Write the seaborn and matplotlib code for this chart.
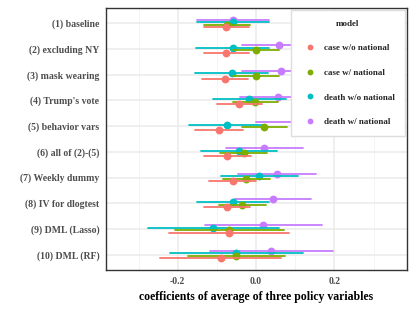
import numpy as np
import pandas as pd
import matplotlib
matplotlib.use("Agg")
import matplotlib.pyplot as plt
import seaborn as sns
from matplotlib.lines import Line2D

labels = ["(1) baseline", "(2) excluding NY", "(3) mask wearing", "(4) Trump's vote",
          "(5) behavior vars", "(6) all of (2)-(5)", "(7) Weekly dummy",
          "(8) IV for dlogtest", "(9) DML (Lasso)", "(10) DML (RF)"]
models = ["case w/o national", "case w/ national", "death w/o national", "death w/ national"]
colors = ["#F8766D", "#7CAE00", "#00BFC4", "#C77CFF"]

case_wo_pt = [-0.076, -0.076, -0.080, -0.043, -0.094, -0.073, -0.060, -0.073, -0.068, -0.090]
case_wo_lo = [-0.134, -0.134, -0.137, -0.101, -0.155, -0.132, -0.120, -0.132, -0.222, -0.245]
case_wo_hi = [-0.018, -0.018, -0.021, 0.015, -0.034, -0.013, -0.001, -0.015, 0.085, 0.063]

case_w_pt = [-0.075, -0.001, -0.001, -0.003, 0.021, -0.032, -0.025, -0.036, -0.070, -0.051]
case_w_lo = [-0.132, -0.060, -0.060, -0.060, -0.035, -0.092, -0.085, -0.094, -0.208, -0.174]
case_w_hi = [-0.015, 0.059, 0.059, 0.057, 0.080, 0.029, 0.036, 0.025, 0.070, 0.074]

death_wo_pt = [-0.058, -0.060, -0.062, -0.018, -0.075, -0.043, 0.008, -0.059, -0.109, -0.051]
death_wo_lo = [-0.151, -0.154, -0.155, -0.110, -0.171, -0.141, -0.089, -0.151, -0.277, -0.219]
death_wo_hi = [0.034, 0.034, 0.030, 0.075, 0.019, 0.054, 0.106, 0.034, 0.059, 0.119]

death_w_pt = [-0.059, 0.059, 0.063, 0.055, 0.110, 0.021, 0.053, 0.042, 0.017, 0.038]
death_w_lo = [-0.151, -0.037, -0.035, -0.041, 0.000, -0.076, -0.047, -0.055, -0.130, -0.117]
death_w_hi = [0.034, 0.155, 0.160, 0.151, 0.220, 0.119, 0.152, 0.140, 0.167, 0.195]

series = {
    "case w/o national": (case_wo_lo, case_wo_pt, case_wo_hi),
    "case w/ national": (case_w_lo, case_w_pt, case_w_hi),
    "death w/o national": (death_wo_lo, death_wo_pt, death_wo_hi),
    "death w/ national": (death_w_lo, death_w_pt, death_w_hi),
}
rows = []
for m, (lo, pt, hi) in series.items():
    for i, lab in enumerate(labels):
        for v in (lo[i], pt[i], hi[i]):
            rows.append({"label": lab, "model": m, "value": v})
df = pd.DataFrame(rows)

sns.set_style("white")
plt.rcParams["font.family"] = ["Liberation Serif", "DejaVu Serif"]

fig = plt.figure(figsize=(4.15, 3.12), dpi=100)
ax = fig.add_axes([106 / 415, 1 - 270 / 312, (407 - 106) / 415, (270 - 8) / 312])

pal = dict(zip(models, colors))
plot_order = models[::-1]
sns.pointplot(data=df, x="value", y="label", hue="model", hue_order=plot_order,
              order=labels, palette=pal, estimator="median",
              errorbar=lambda v: (np.min(v), np.max(v)), dodge=0.3,
              linestyle="none", markers="o", markersize=3.6,
              err_kws={"linewidth": 1.3}, capsize=0, orient="h", ax=ax)

ax.set_xlim(-0.383, 0.385)
ax.set_ylim(9.6, -0.6)
ax.set_xticks([-0.2, 0.0, 0.2])
ax.set_xticklabels(["-0.2", "0.0", "0.2"])
ax.set_xticks([-0.3, -0.1, 0.1, 0.3], minor=True)
ax.set_axisbelow(True)
ax.grid(True, which="major", axis="both", color="#EBEBEB", linewidth=1.1)
ax.grid(True, which="minor", axis="x", color="#F2F2F2", linewidth=0.6)
for s in ax.spines.values():
    s.set_color("#333333")
    s.set_linewidth(1.0)
ax.tick_params(axis="both", which="major", length=2.8, width=1.0, color="#333333",
               labelsize=7, labelcolor="#4D4D4D", pad=2)
ax.tick_params(axis="both", which="minor", length=0)
for t in ax.get_yticklabels() + ax.get_xticklabels():
    t.set_fontweight("bold")
ax.set_ylabel("")
ax.set_xlabel("coefficients of average of three policy variables", fontsize=8.5,
              fontweight="bold", color="black", labelpad=4)

lg = ax.get_legend()
if lg is not None:
    lg.remove()
handles = [Line2D([], [], linestyle="none", marker="o", markersize=4.2,
                  markerfacecolor=c, markeredgewidth=0) for c in colors]
leg = ax.legend(handles, models, title="model", loc="upper right",
                bbox_to_anchor=(405 / 415, 1 - 10 / 312), bbox_transform=fig.transFigure,
                borderaxespad=0, frameon=True, fancybox=False, edgecolor="#DDDDDD", framealpha=1,
                prop={"size": 6.5, "weight": "bold"}, title_fontproperties={"size": 6.5, "weight": "bold"},
                labelspacing=1.8, borderpad=1.1, handletextpad=0.6, handlelength=2.0)
leg.get_frame().set_linewidth(1.0)

fig.savefig("out.png", dpi=100)
